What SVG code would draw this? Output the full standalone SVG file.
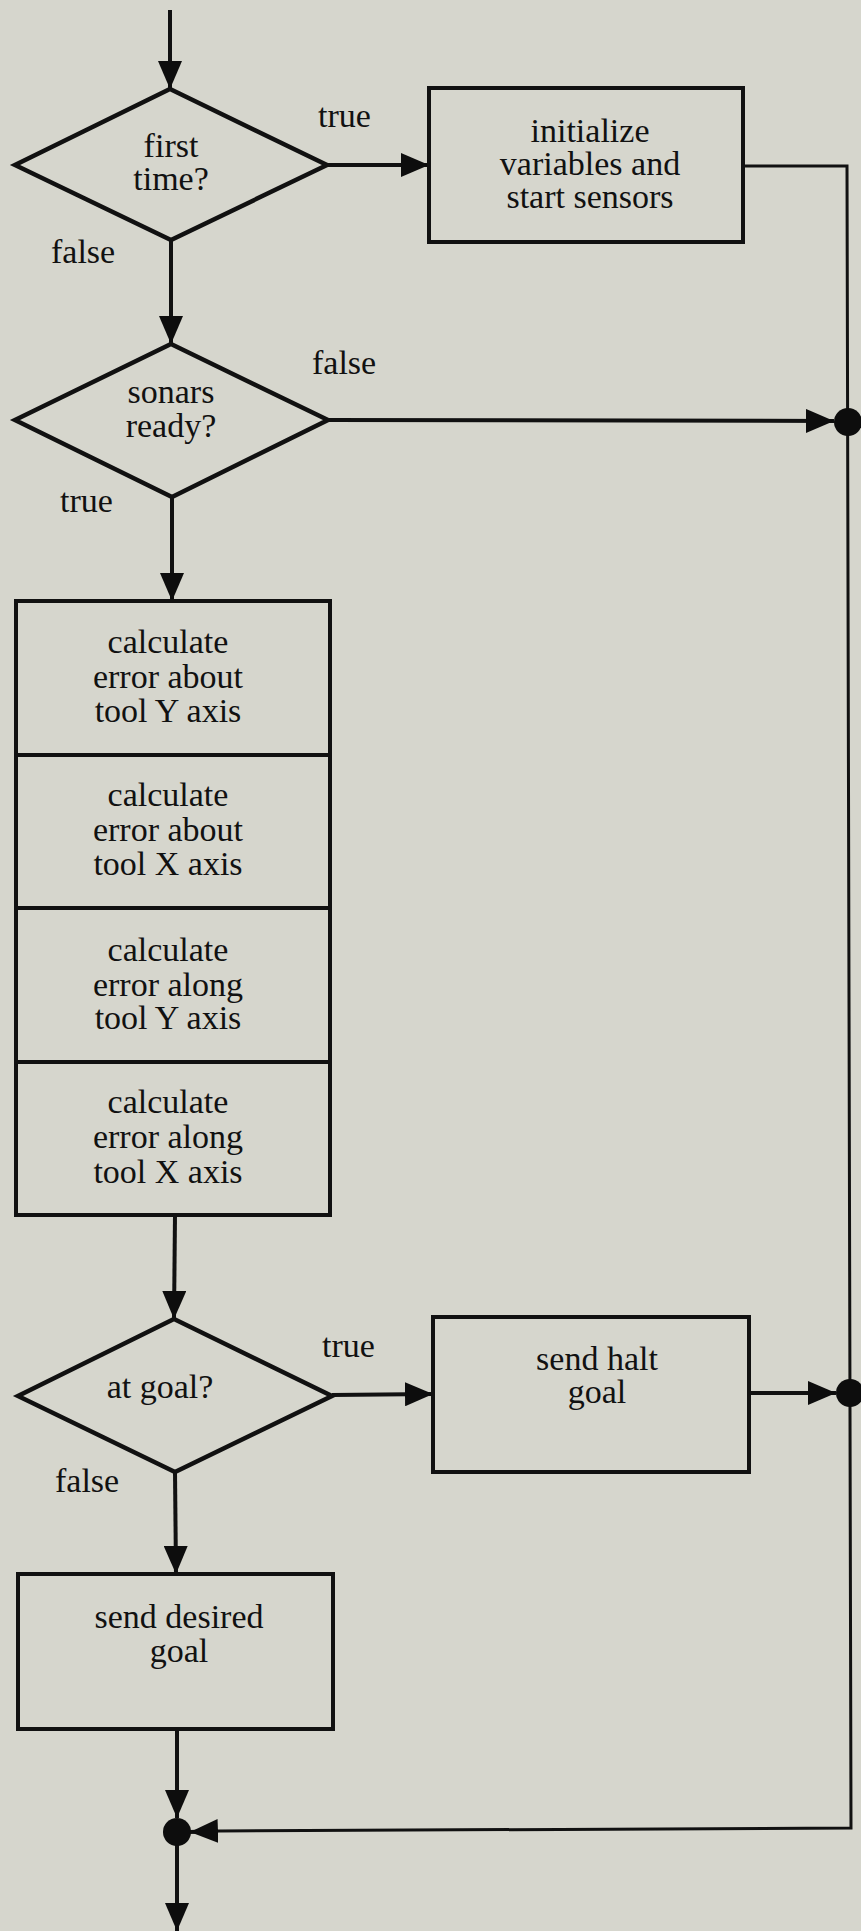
<svg xmlns="http://www.w3.org/2000/svg" width="861" height="1931" viewBox="0 0 861 1931">
  <style>
    .shape { fill: none; stroke: #111; stroke-width: 4.5; stroke-linejoin: miter; }
    .box { fill: none; stroke: #111; stroke-width: 4; }
    .edge { fill: none; stroke: #111; stroke-width: 4; }
    .thin { fill: none; stroke: #111; stroke-width: 3; }
    .dot { fill: #0d0d0d; }
    text { font-family: "Liberation Serif", "Times New Roman", serif; font-size: 34px; fill: #111; }
    .c { text-anchor: middle; }
  </style>
  <defs>
    <marker id="arrow" markerUnits="userSpaceOnUse" markerWidth="28" markerHeight="24" refX="28" refY="12" orient="auto">
      <path d="M0,0 L28,12 L0,24 z" fill="#0d0d0d"/>
    </marker>
  </defs>

  <rect x="0" y="0" width="861" height="1931" fill="#d6d6cd"/>

  <!-- connectors -->
  <g id="connectors">
    <path class="edge" d="M170,10 L170,89" marker-end="url(#arrow)"/>
    <path class="edge" d="M327,165 L429,165" marker-end="url(#arrow)"/>
    <path class="edge" d="M171,240 L171,344" marker-end="url(#arrow)"/>
    <path class="thin" d="M743,166 L847,166 L851,1828 L218,1831"/>
    <path class="edge" d="M218,1831 L190,1832" marker-end="url(#arrow)"/>
    <path class="edge" d="M328,420 L834,421" marker-end="url(#arrow)"/>
    <path class="edge" d="M172,497 L172,601" marker-end="url(#arrow)"/>
    <path class="edge" d="M175,1215 L174,1319" marker-end="url(#arrow)"/>
    <path class="edge" d="M332,1395 L433,1394" marker-end="url(#arrow)"/>
    <path class="edge" d="M749,1393 L836,1393" marker-end="url(#arrow)"/>
    <path class="edge" d="M175,1472 L176,1574" marker-end="url(#arrow)"/>
    <path class="edge" d="M177,1729 L177,1818" marker-end="url(#arrow)"/>
    <path class="edge" d="M177,1832 L177,1931" marker-end="url(#arrow)"/>
    <circle class="dot" cx="848" cy="422" r="14"/>
    <circle class="dot" cx="850" cy="1393" r="14"/>
    <circle class="dot" cx="177" cy="1832" r="14"/>
    <text x="318" y="127">true</text>
    <text x="51" y="263">false</text>
    <text x="312" y="374">false</text>
    <text x="60" y="512">true</text>
    <text x="322" y="1357">true</text>
    <text x="55" y="1492">false</text>
  </g>

  <!-- decision: first time? -->
  <g id="first-time">
    <polygon class="shape" points="170,89 327,165 171,240 15,165"/>
    <text class="c" x="171" y="157">first</text>
    <text class="c" x="171" y="190">time?</text>
  </g>

  <!-- initialize variables and start sensors -->
  <g id="initialize">
    <rect class="box" x="429" y="88" width="314" height="154"/>
    <text class="c" x="590" y="142">initialize</text>
    <text class="c" x="590" y="175">variables and</text>
    <text class="c" x="590" y="208">start sensors</text>
  </g>

  <!-- decision: sonars ready? -->
  <g id="sonars-ready">
    <polygon class="shape" points="171,344 328,420 172,497 15,420"/>
    <text class="c" x="171" y="403">sonars</text>
    <text class="c" x="171" y="437">ready?</text>
  </g>

  <!-- stacked error calculations -->
  <g id="calc-about-y">
    <rect class="box" x="16" y="601" width="314" height="154"/>
    <text class="c" x="168" y="653">calculate</text>
    <text class="c" x="168" y="688">error about</text>
    <text class="c" x="168" y="722">tool Y axis</text>
  </g>
  <g id="calc-about-x">
    <rect class="box" x="16" y="755" width="314" height="153"/>
    <text class="c" x="168" y="806">calculate</text>
    <text class="c" x="168" y="841">error about</text>
    <text class="c" x="168" y="875">tool X axis</text>
  </g>
  <g id="calc-along-y">
    <rect class="box" x="16" y="908" width="314" height="154"/>
    <text class="c" x="168" y="961">calculate</text>
    <text class="c" x="168" y="996">error along</text>
    <text class="c" x="168" y="1029">tool Y axis</text>
  </g>
  <g id="calc-along-x">
    <rect class="box" x="16" y="1062" width="314" height="153"/>
    <text class="c" x="168" y="1113">calculate</text>
    <text class="c" x="168" y="1148">error along</text>
    <text class="c" x="168" y="1183">tool X axis</text>
  </g>

  <!-- decision: at goal? -->
  <g id="at-goal">
    <polygon class="shape" points="174,1319 332,1396 175,1472 18,1396"/>
    <text class="c" x="160" y="1398">at goal?</text>
  </g>

  <!-- send halt goal -->
  <g id="send-halt">
    <rect class="box" x="433" y="1317" width="316" height="155"/>
    <text class="c" x="597" y="1370">send halt</text>
    <text class="c" x="597" y="1403">goal</text>
  </g>

  <!-- send desired goal -->
  <g id="send-desired">
    <rect class="box" x="18" y="1574" width="315" height="155"/>
    <text class="c" x="179" y="1628">send desired</text>
    <text class="c" x="179" y="1662">goal</text>
  </g>
</svg>
